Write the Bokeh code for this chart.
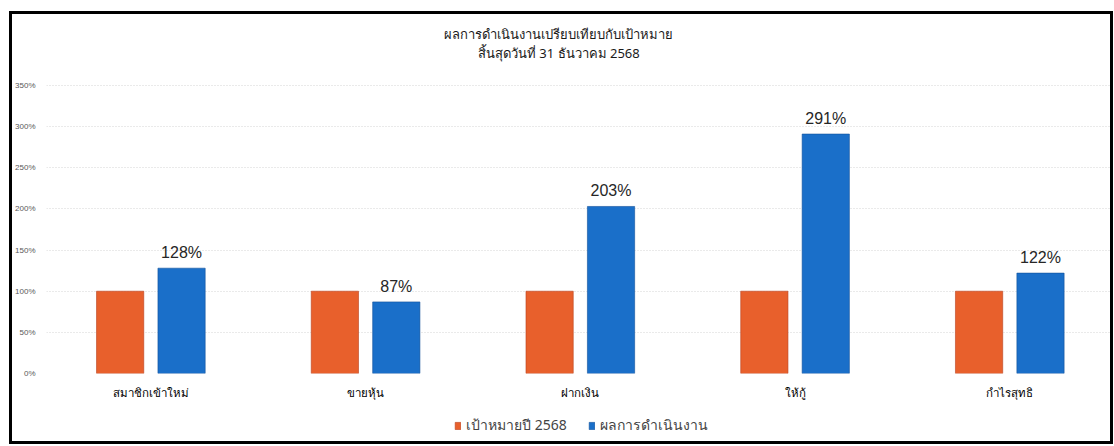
from bokeh.plotting import figure
from bokeh.layouts import column
from bokeh.models import (ColumnDataSource, Range1d, FixedTicker, Legend, LegendItem,
                          Label)
from bokeh.core.properties import value
from bokeh.embed import file_html
from bokeh.resources import INLINE

categories = ["สมาชิกเข้าใหม่", "ขายหุ้น", "ฝากเงิน", "ให้กู้", "กำไรสุทธิ"]
target = [100, 100, 100, 100, 100]
actual = [128, 87, 203, 291, 122]
actual_labels = ["128%", "87%", "203%", "291%", "122%"]
y_ticks = [0, 50, 100, 150, 200, 250, 300, 350]
title_lines = ["ผลการดำเนินงานเปรียบเทียบกับเป้าหมาย", "สิ้นสุดวันที่ 31 ธันวาคม 2568"]
series_names = ["เป้าหมายปี 2568", "ผลการดำเนินงาน"]

ORANGE = "#E8602C"
BLUE = "#1A6FC9"
THAI = "Noto Sans"

idx = list(range(len(categories)))
src = ColumnDataSource(dict(
    x_t=[i - 0.143 for i in idx],
    x_a=[i + 0.143 for i in idx],
    target=target, actual=actual, lab=actual_labels,
))

W = 1098
p = figure(width=W, height=388, output_backend="svg", toolbar_location=None,
           x_range=Range1d(-0.486, 4.469), y_range=Range1d(0, 429),
           min_border_left=28, min_border_right=0, min_border_top=6,
           min_border_bottom=0)
p.outline_line_color = None
p.background_fill_color = "white"
p.border_fill_color = "white"

r_t = p.vbar(x="x_t", top="target", width=0.22, source=src, fill_color=ORANGE,
             line_color="#B8401C", line_width=0.6)
r_a = p.vbar(x="x_a", top="actual", width=0.22, source=src, fill_color=BLUE,
             line_color="#10509A", line_width=0.6)

p.text(x="x_a", y="actual", text="lab", source=src, text_align="center",
       text_baseline="bottom", y_offset=-7, text_font_size="16px",
       text_color="#262626", text_font=value("Liberation Sans"))

# axes
p.xaxis.ticker = FixedTicker(ticks=idx)
p.xaxis.major_label_overrides = {i: c for i, c in zip(idx, categories)}
p.xaxis.major_label_text_font_size = "11.5px"
p.xaxis.major_label_text_color = "#000000"
p.xaxis.major_label_text_font = THAI
p.xaxis.major_label_standoff = 5
p.xaxis.axis_line_color = None
p.xaxis.major_tick_line_color = None
p.xaxis.minor_tick_line_color = None

p.yaxis.ticker = FixedTicker(ticks=y_ticks)
p.yaxis.major_label_overrides = {v: f"{v}%" for v in y_ticks}
p.yaxis.major_label_text_font_size = "8px"
p.yaxis.major_label_text_color = "#595959"
p.yaxis.major_label_standoff = 5
p.yaxis.axis_line_color = None
p.yaxis.major_tick_line_color = None
p.yaxis.minor_tick_line_color = None

p.xgrid.grid_line_color = None
p.ygrid.ticker = FixedTicker(ticks=y_ticks)
p.ygrid.grid_line_color = "#D4D4D4"
p.ygrid.grid_line_dash = "1 2"
p.ygrid.grid_line_width = 1

# title lines
for t, yv in zip(title_lines, [413, 389]):
    p.add_layout(Label(x=1.90, y=yv, text=t, text_align="center", text_baseline="middle",
                       text_font_size="13px", text_color="#1a1a1a", text_font=THAI))

# legend strip
p2 = figure(width=W, height=39, output_backend="svg", toolbar_location=None,
            x_range=Range1d(0, 1), y_range=Range1d(0, 1),
            x_axis_location=None, y_axis_location=None,
            min_border_left=0, min_border_right=0, min_border_top=0, min_border_bottom=0)
p2.outline_line_color = None
p2.xgrid.visible = False
p2.ygrid.visible = False
l_t = p2.vbar(x=[5], top=[1], width=0.1, fill_color=ORANGE, line_color="#B8401C", line_width=0.6)
l_a = p2.vbar(x=[5], top=[1], width=0.1, fill_color=BLUE, line_color="#10509A", line_width=0.6)
legend = Legend(items=[LegendItem(label=series_names[0], renderers=[l_t]),
                       LegendItem(label=series_names[1], renderers=[l_a])],
                orientation="horizontal", location=(408, 5),
                glyph_width=7, glyph_height=9, label_text_font_size="14px",
                label_text_font=THAI, label_standoff=5, spacing=21,
                border_line_color=None, background_fill_alpha=0, padding=2, margin=0)
p2.add_layout(legend)

layout = column(p, p2, spacing=0, margin=(11, 0, 0, 9),
                styles={"border": "3px solid black"})

open("out.html", "w").write(file_html(layout, INLINE))
